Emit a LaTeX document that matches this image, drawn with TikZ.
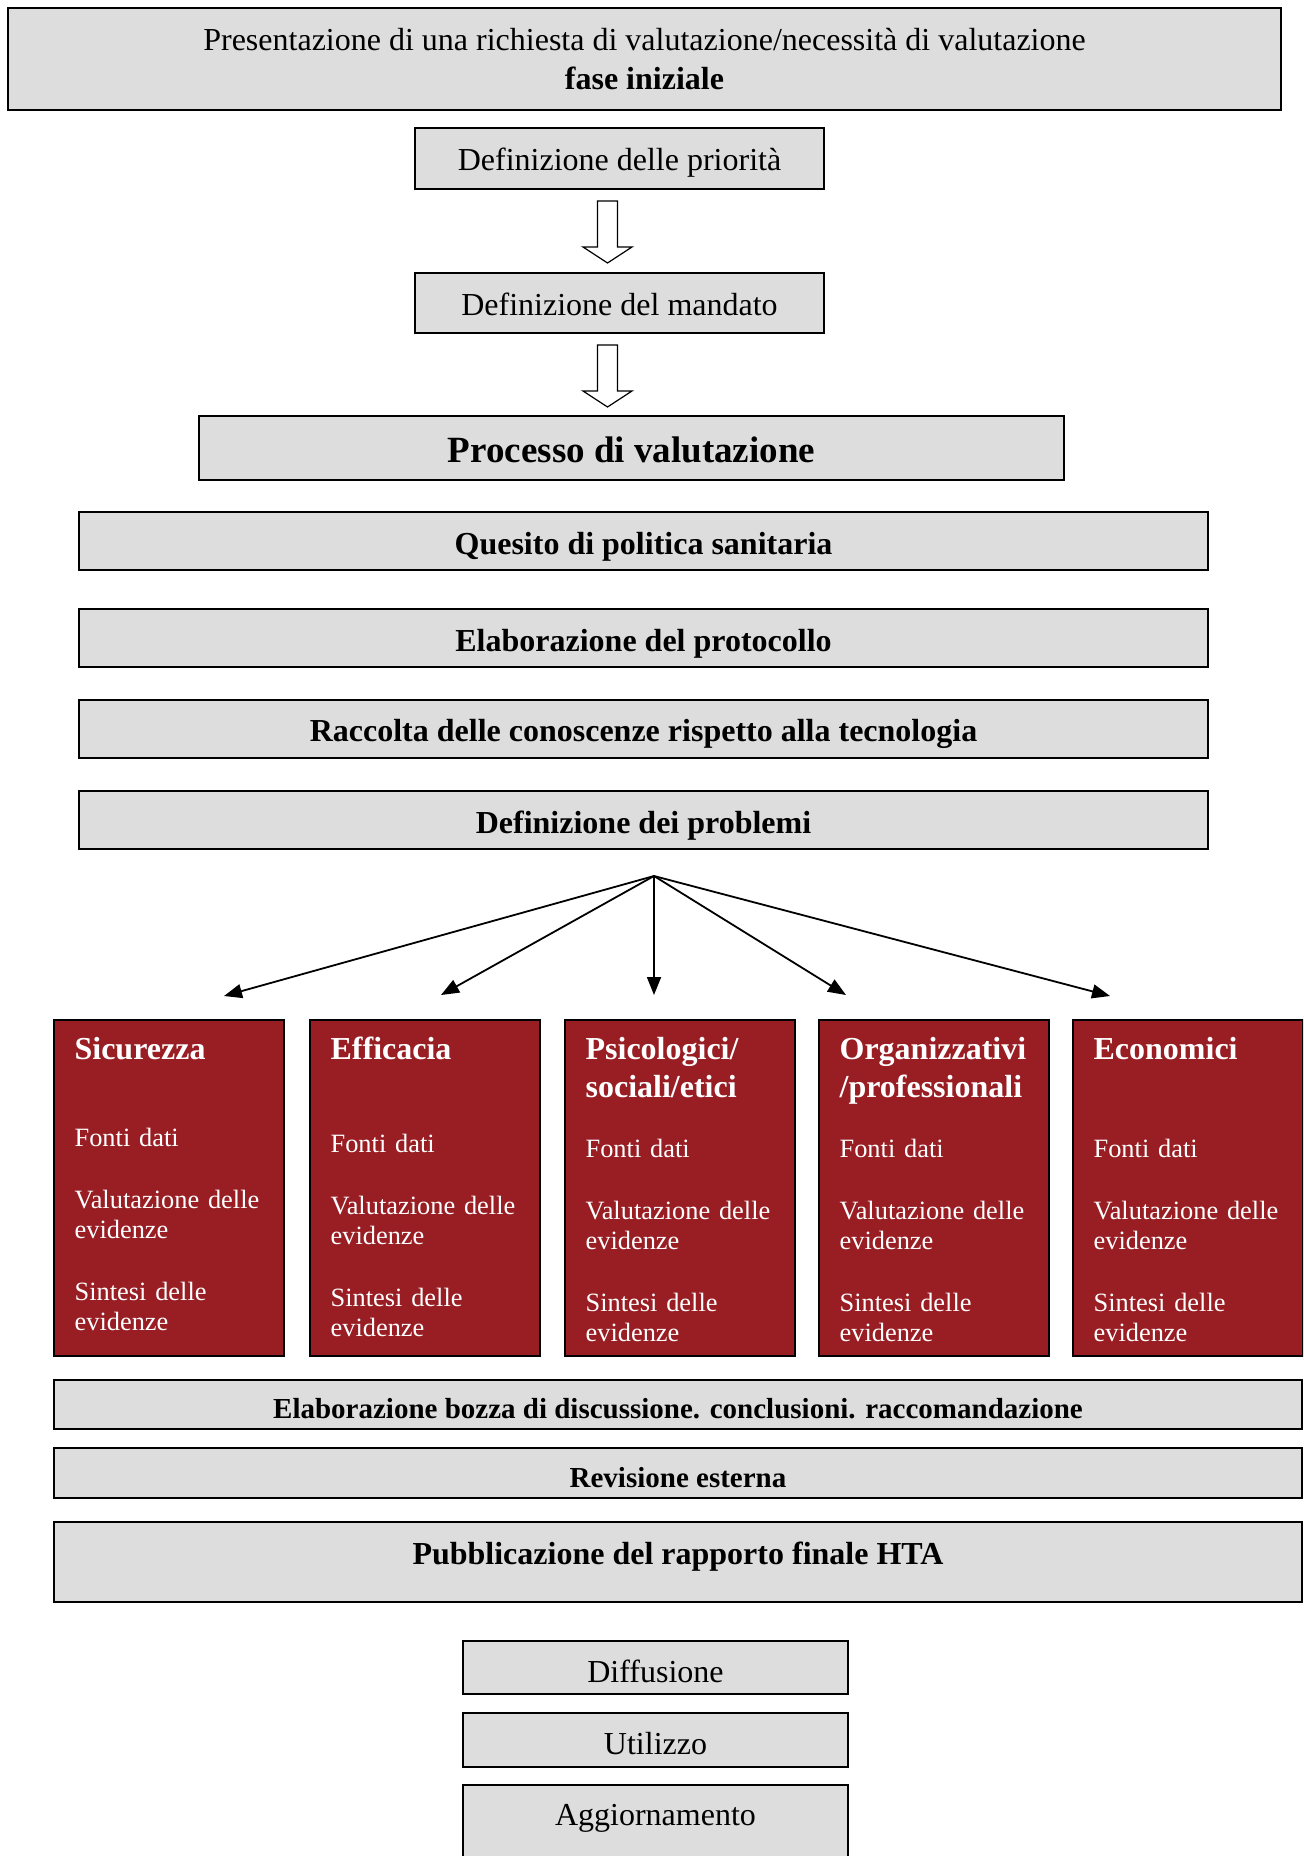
\documentclass[tikz,border=0pt]{standalone}
\usepackage{fontspec}
\setmainfont{Liberation Serif}
\usetikzlibrary{arrows.meta,calc}
\definecolor{boxgray}{RGB}{221,221,221}
\definecolor{evidred}{RGB}{152,30,36}
\tikzset{
  graybox/.style={draw=black,line width=1pt,fill=boxgray,inner sep=0pt,align=center,
    font=\fontsize{16}{19.5}\selectfont},
  linebox/.style={graybox,text height=14.3pt,text depth=2pt},
  boldbox/.style={graybox,text height=15pt,text depth=2pt,font=\fontsize{16}{19.5}\selectfont\bfseries},
  smallbox/.style={graybox,text height=16pt,text depth=2pt,font=\fontsize{14.5}{17}\selectfont\bfseries},
  evidbox/.style={draw=black,line width=0.8pt,fill=evidred,minimum width=115pt,minimum height=168pt,inner sep=0pt},
  evidtitle/.style={anchor=base west,inner sep=0pt,text=white,text width=105pt,align=left,
    font=\fontsize{16}{19}\selectfont\bfseries},
  evidbody/.style={anchor=base west,inner sep=0pt,text=white,text width=105pt,align=left,
    font=\fontsize{13.2}{15}\selectfont},
  blockarrow/.style={draw=black,line width=0.6pt,fill=white},
  fan/.style={line width=0.9pt,-{Triangle[length=9pt,width=7pt]}}
}
\begin{document}
\begin{tikzpicture}[x=0.5pt,y=-0.5pt]
  \useasboundingbox (0,0) rectangle (1303,1856);
  \clip (0,0) rectangle (1303,1856);
  \node[graybox,minimum width=636.5pt,minimum height=51pt] (start) at (644.5,59)
    {Presentazione di una richiesta di valutazione/necessità di valutazione\\\textbf{fase iniziale}};
  \node[linebox,minimum width=204.5pt,minimum height=30.5pt] (prio) at (619.5,158.5) {Definizione delle priorità};
  \node[linebox,minimum width=204.5pt,minimum height=30pt] (mand) at (619.5,303) {Definizione del mandato};
  \foreach \a in {prio,mand} {
    \draw[blockarrow] ($(\a.south)+(-22,11)$) -- ++(0,46) -- ++(-14.5,0) -- ++(24.5,16)
      -- ++(24.5,-16) -- ++(-14.5,0) -- ++(0,-46) -- cycle;
  }
  \node[graybox,minimum width=432.5pt,minimum height=32pt,text height=17pt,text depth=3pt,
    font=\fontsize{18.5}{22}\selectfont\bfseries] (proc) at (631.5,448) {Processo di valutazione};
  \node[boldbox,minimum width=564.5pt,minimum height=29pt] (ques) at (643.5,541) {Quesito di politica sanitaria};
  \node[boldbox,minimum width=564.5pt,minimum height=29pt] (prot) at (643.5,638) {Elaborazione del protocollo};
  \node[boldbox,minimum width=564.5pt,minimum height=29pt] (racc) at (643.5,728.5) {Raccolta delle conoscenze rispetto alla tecnologia};
  \node[boldbox,minimum width=564.5pt,minimum height=29pt] (prob) at (643.5,820) {Definizione dei problemi};
  % aree di valutazione
  \foreach \cx/\nm/\ttl/\bdy in {169/sic/Sicurezza/127, 425/eff/Efficacia/133,
      680/psi/{Psicologici/\\sociali/etici}/138, 934/org/{Organizzativi\\/professionali}/138,
      1188/eco/Economici/138} {
    \node[evidbox] (\nm) at (\cx,1188) {};
    \node[evidtitle] (\nm-t) at ($(\nm.north west)+(21,40)$) {\ttl};
    \node[evidbody] (\nm-b) at ($(\nm.north west)+(21,\bdy)$)
      {Fonti dati\\[16pt]Valutazione delle\\evidenze\\[16pt]Sintesi delle\\evidenze};
  }
  \coordinate (fork) at (654,876);
  \coordinate (sicTip) at (224,996);
  \coordinate (effTip) at (441,995);
  \coordinate (psiTip) at (654,995);
  \coordinate (orgTip) at (846,995);
  \coordinate (ecoTip) at (1110,996);
  \foreach \t in {sicTip,effTip,psiTip,orgTip,ecoTip}
    \draw[fan] (fork) -- (\t);
  \node[smallbox,minimum width=624pt,minimum height=24.5pt] (elab) at (678,1404.5)
    {Elaborazione bozza di discussione. conclusioni. raccomandazione};
  \node[smallbox,minimum width=624pt,minimum height=25pt] (rev) at (678,1473) {Revisione esterna};
  \node[graybox,font=\fontsize{16}{19.5}\selectfont\bfseries,minimum width=624pt,
    text height=21pt,text depth=19pt,anchor=north] (pub) at (678,1521)
    {Pubblicazione del rapporto finale HTA};
  \node[linebox,text height=16.5pt,minimum width=192.5pt,minimum height=26.5pt] (diff) at (655.5,1667.5) {Diffusione};
  \node[linebox,text height=16.5pt,minimum width=192.5pt,minimum height=27pt] (util) at (655.5,1740) {Utilizzo};
  \node[graybox,minimum width=192.5pt,text height=20.3pt,text depth=27.7pt,anchor=north] (agg) at (655.5,1784)
    {Aggiornamento};
\end{tikzpicture}
\end{document}
